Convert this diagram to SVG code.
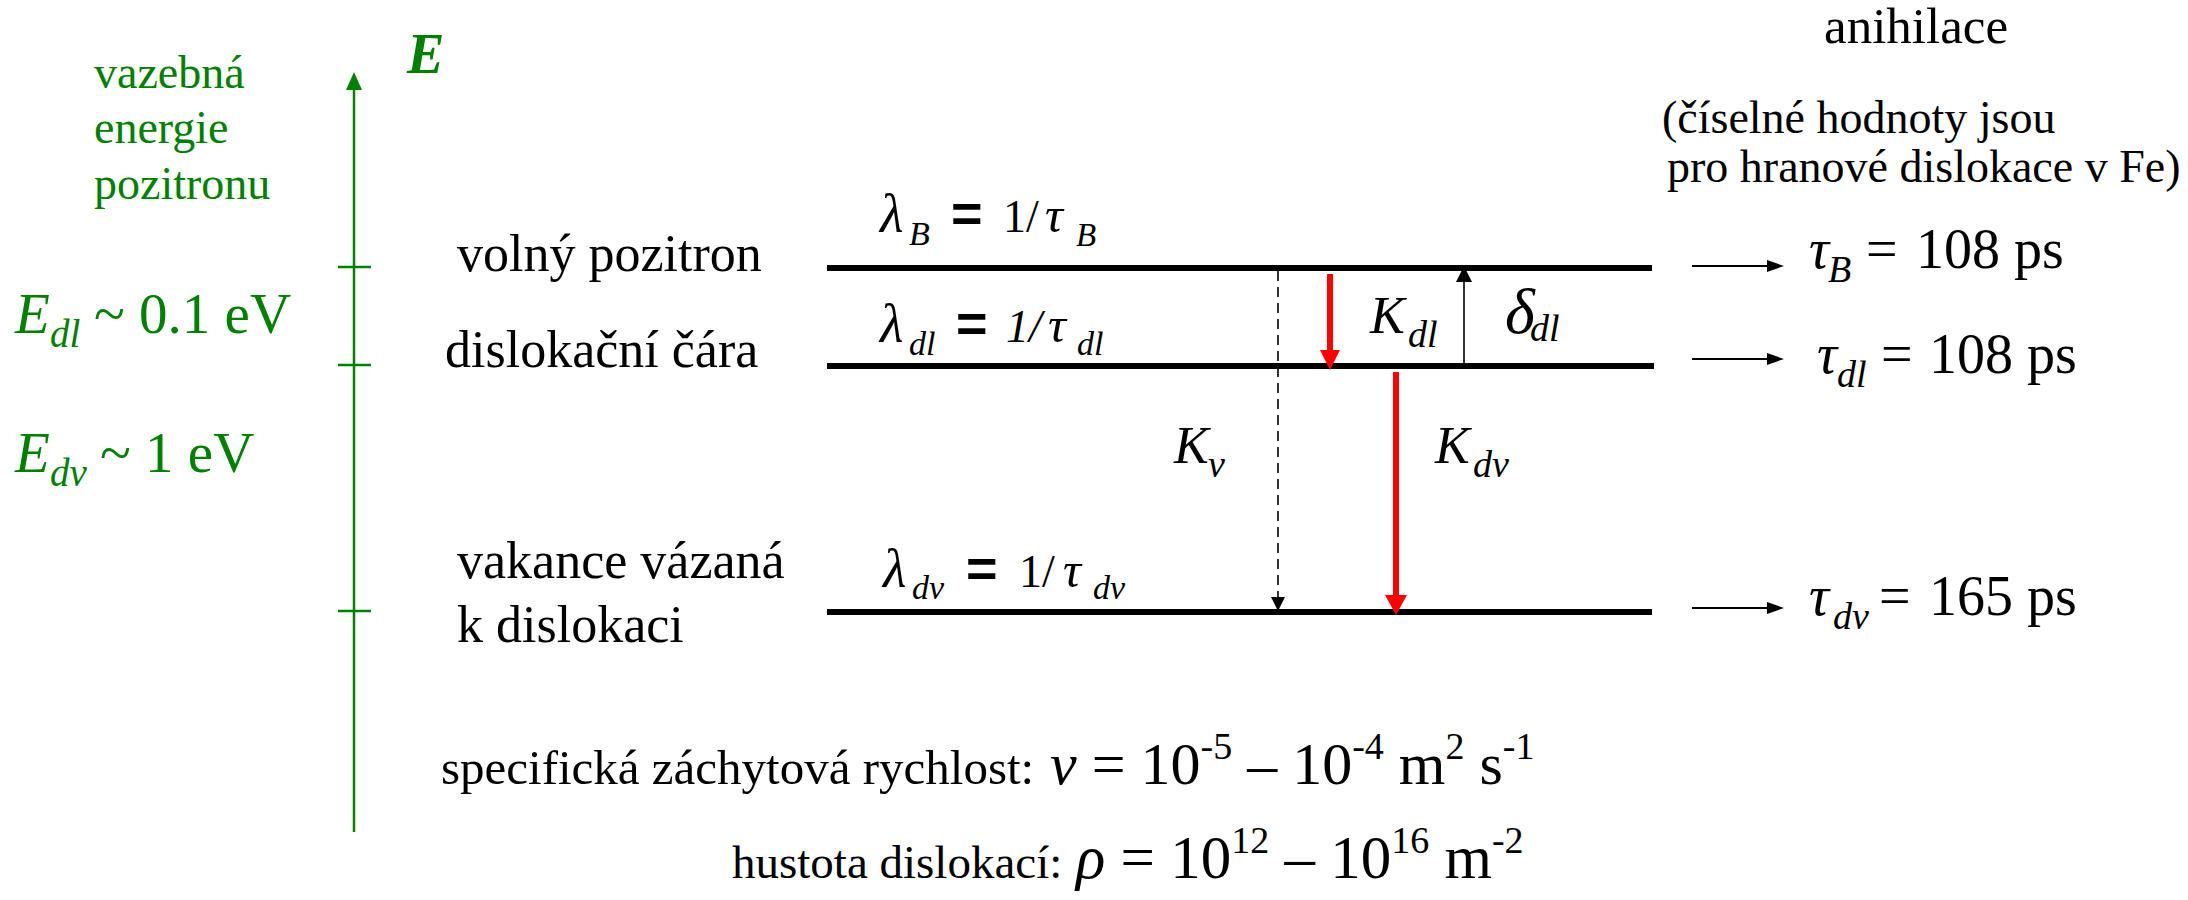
<svg xmlns="http://www.w3.org/2000/svg" width="2188" height="900" viewBox="0 0 2188 900" font-family="'Liberation Serif','Times New Roman',serif">
<style>
text{font-family:"Liberation Serif","Times New Roman",serif;fill:#000}
.it{font-style:italic}
.g{fill:#008000}
.eq{font-family:"Liberation Sans",Arial,sans-serif;font-weight:bold}
.lvl{stroke:#000;stroke-width:6}
.ax{stroke:#008000;stroke-width:2.5;fill:none}
.thin{stroke:#000;stroke-width:2;fill:none}
.red{stroke:#ff0000;stroke-width:6}
</style>
<rect width="2188" height="900" fill="#fff"/>

<g id="axis">
  <line class="ax" x1="354" y1="832" x2="354" y2="86"/>
  <polygon points="354,72 346,90 362,90" fill="#008000"/>
  <line class="ax" x1="338" y1="267" x2="371" y2="267"/>
  <line class="ax" x1="338" y1="365" x2="371" y2="365"/>
  <line class="ax" x1="338" y1="611" x2="371" y2="611"/>
  <text x="407" y="73" font-size="56" class="g" font-weight="bold" font-style="italic">E</text>
</g>

<g id="binding-label">
  <text x="94" y="88" font-size="46" class="g">vazebná</text>
  <text x="94" y="143" font-size="46" class="g">energie</text>
  <text x="94" y="199" font-size="46" class="g">pozitronu</text>
</g>

<g id="E-dl">
  <text x="15" y="333" font-size="57" class="g"><tspan class="it">E</tspan><tspan class="it" font-size="39" x="50" y="347">dl</tspan><tspan x="94" y="333">~ 0.1 eV</tspan></text>
</g>
<g id="E-dv">
  <text x="15" y="472" font-size="57" class="g"><tspan class="it">E</tspan><tspan class="it" font-size="39" x="50" y="486">dv</tspan><tspan x="100" y="472">~ 1 eV</tspan></text>
</g>

<g id="level-free">
  <line class="lvl" x1="827" y1="268" x2="1652" y2="268"/>
  <text x="457" y="271" font-size="52">volný pozitron</text>
  <text x="880" y="232" font-size="54" class="it">λ</text>
  <text x="909" y="245" font-size="34" class="it">B</text>
  <text x="951" y="232" font-size="54" class="eq">=</text>
  <text x="1003" y="232" font-size="46">1/</text>
  <text x="1045" y="232" font-size="50" class="it">τ</text>
  <text x="1076" y="246" font-size="33" class="it">B</text>
</g>

<g id="level-dl">
  <line class="lvl" x1="827" y1="366" x2="1654" y2="366"/>
  <text x="445" y="367" font-size="52">dislokační čára</text>
  <text x="880" y="342" font-size="54" class="it">λ</text>
  <text x="909" y="355" font-size="34" class="it">dl</text>
  <text x="956" y="342" font-size="54" class="eq">=</text>
  <text x="1006" y="342" font-size="46" class="it">1/</text>
  <text x="1048" y="342" font-size="50" class="it">τ</text>
  <text x="1077" y="355" font-size="34" class="it">dl</text>
</g>

<g id="level-dv">
  <line class="lvl" x1="827" y1="612" x2="1652" y2="612"/>
  <text x="457" y="578" font-size="52">vakance vázaná</text>
  <text x="457" y="642" font-size="52">k dislokaci</text>
  <text x="883" y="587" font-size="54" class="it">λ</text>
  <text x="912" y="599" font-size="34" class="it">dv</text>
  <text x="966" y="587" font-size="54" class="eq">=</text>
  <text x="1019" y="587" font-size="46">1/</text>
  <text x="1063" y="587" font-size="50" class="it">τ</text>
  <text x="1093" y="599" font-size="34" class="it">dv</text>
</g>

<g id="connectors">
  <line x1="1278" y1="271" x2="1278" y2="598" stroke="#000" stroke-width="1.6" stroke-dasharray="10,6"/>
  <polygon points="1271,597 1285,597 1278,611" fill="#000"/>
  <line class="red" x1="1330" y1="274" x2="1330" y2="352"/>
  <polygon points="1320,350 1340,350 1330,370" fill="#ff0000"/>
  <line class="red" x1="1396" y1="372" x2="1396" y2="597"/>
  <polygon points="1385,595 1407,595 1396,615" fill="#ff0000"/>
  <line x1="1464" y1="363" x2="1464" y2="281" stroke="#000" stroke-width="1.6"/>
  <polygon points="1456,282 1472,282 1464,266" fill="#000"/>
  <line class="thin" x1="1692" y1="266" x2="1770" y2="266"/>
  <polygon points="1767,260 1767,272 1784,266" fill="#000"/>
  <line class="thin" x1="1692" y1="359" x2="1770" y2="359"/>
  <polygon points="1767,353 1767,365 1784,359" fill="#000"/>
  <line class="thin" x1="1692" y1="608" x2="1770" y2="608"/>
  <polygon points="1767,602 1767,614 1784,608" fill="#000"/>
</g>

<g id="rate-labels">
  <text y="333" font-size="52"><tspan x="1370" class="it">K</tspan><tspan x="1408" y="347" class="it" font-size="38">dl</tspan></text>
  <text y="333" font-size="64"><tspan x="1505" class="it">δ</tspan><tspan x="1530" y="341" class="it" font-size="38">dl</tspan></text>
  <text y="463" font-size="52"><tspan x="1174" class="it">K</tspan><tspan x="1208" y="477" class="it" font-size="38">v</tspan></text>
  <text y="463" font-size="52"><tspan x="1435" class="it">K</tspan><tspan x="1473" y="477" class="it" font-size="38">dv</tspan></text>
</g>

<g id="annihilation">
  <text x="1824" y="43" font-size="51">anihilace</text>
  <text x="1662" y="133" font-size="46">(číselné hodnoty jsou</text>
  <text x="1667" y="182" font-size="46">pro hranové dislokace v Fe)</text>
  <text y="268" font-size="56"><tspan x="1809" class="it">τ</tspan><tspan x="1828" y="282" class="it" font-size="38">B</tspan><tspan x="1866" y="268">=</tspan><tspan x="1916">108</tspan><tspan x="2014">ps</tspan></text>
  <text y="373" font-size="56"><tspan x="1817" class="it">τ</tspan><tspan x="1837" y="387" class="it" font-size="38">dl</tspan><tspan x="1881" y="373">=</tspan><tspan x="1929">108</tspan><tspan x="2027">ps</tspan></text>
  <text y="615" font-size="56"><tspan x="1809" class="it">τ</tspan><tspan x="1833" y="629" class="it" font-size="38">dv</tspan><tspan x="1879" y="615">=</tspan><tspan x="1929">165</tspan><tspan x="2027">ps</tspan></text>
</g>

<g id="bottom-notes">
  <text x="441" y="784" font-size="49">specifická záchytová rychlost:</text>
  <text x="1050" y="784" font-size="60"><tspan class="it">ν</tspan> = 10<tspan font-size="38" dy="-25">-5</tspan><tspan dy="25"> – 10</tspan><tspan font-size="38" dy="-25">-4</tspan><tspan dy="25"> m</tspan><tspan font-size="38" dy="-25">2</tspan><tspan dy="25"> s</tspan><tspan font-size="38" dy="-25">-1</tspan></text>
  <text x="732" y="878" font-size="47">hustota dislokací:</text>
  <text x="1076" y="878" font-size="61"><tspan class="it">ρ</tspan> = 10<tspan font-size="38" dy="-25">12</tspan><tspan dy="25"> – 10</tspan><tspan font-size="38" dy="-25">16</tspan><tspan dy="25"> m</tspan><tspan font-size="38" dy="-25">-2</tspan></text>
</g>
</svg>
